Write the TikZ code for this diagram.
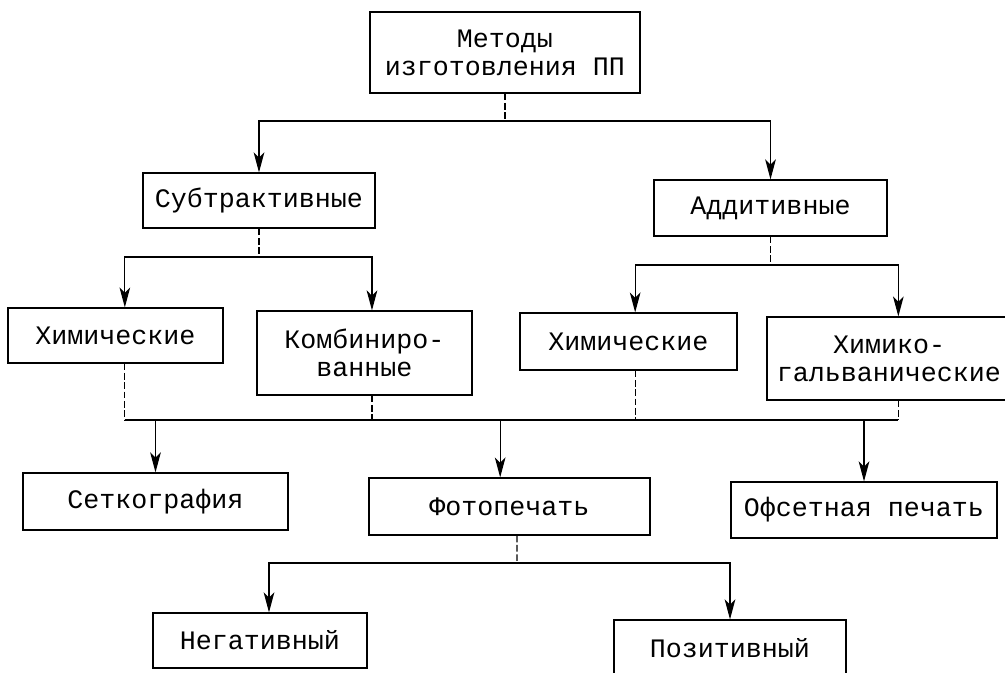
\documentclass[tikz,border=0pt]{standalone}
\usepackage{fontspec}
\newfontfamily\tw{Liberation Mono}
\usetikzlibrary{arrows.meta}
\begin{document}
\begin{tikzpicture}[x=0.75pt,y=-0.75pt,
  bx/.style={draw, line width=0.9pt, inner sep=0pt, align=center,
    font=\tw\fontsize{20}{21}\selectfont},
  arr/.style={line width=0.9pt, -{Stealth[length=15pt,width=8pt,inset=4pt]}},
  ln/.style={line width=0.9pt},
  stub/.style={line width=0.9pt, dash pattern=on 5pt off 2pt}]
\useasboundingbox (0,0) rectangle (1005,672);
% boxes
\node[bx, minimum width=202.5pt, minimum height=60.75pt] (top) at (505,52.5) {Методы\\изготовления ПП};
\node[bx, minimum width=174pt, minimum height=41.25pt] (sub) at (259,200.5) {Субтрактивные};
\node[bx, minimum width=174.75pt, minimum height=42pt] (add) at (770.5,208) {Аддитивные};
\node[bx, minimum width=161.25pt, minimum height=41.25pt] (chemL) at (115.5,335.5) {Химические};
\node[bx, minimum width=161.25pt, minimum height=63pt] (comb) at (364.5,353) {Комбиниро-\\ванные};
\node[bx, minimum width=162.75pt, minimum height=42.75pt] (chemR) at (628.5,341.5) {Химические};
\node[bx, minimum width=183pt, minimum height=62.25pt] (galv) at (889,358.5) {Химико-\\гальванические};
\node[bx, minimum width=198.75pt, minimum height=42.75pt] (setk) at (155.5,501.5) {Сеткография};
\node[bx, minimum width=210.75pt, minimum height=42.75pt] (foto) at (509.5,506.5) {Фотопечать};
\node[bx, minimum width=199.5pt, minimum height=42pt] (ofset) at (864,510) {Офсетная печать};
\node[bx, minimum width=160.5pt, minimum height=41.25pt] (neg) at (260,640.5) {Негативный};
\node[bx, minimum width=174pt, minimum height=42pt] (pos) at (730,648) {Позитивный};
% level 1 -> 2
\coordinate (h1) at (505,121);
\draw[stub] (top.south) -- (h1);
\draw[arr] (h1) -| (sub.north);
\draw[arr] (h1) -| (add.north);
% sub -> chem/comb
\coordinate (h2) at (259,257);
\draw[stub] (sub.south) -- (h2);
\draw[arr] (h2) -| ([xshift=7pt]chemL.north);
\draw[arr] (h2) -| ([xshift=5.6pt]comb.north);
% add -> chemR/galv
\coordinate (h3) at (770.5,265);
\draw[stub] (add.south) -- (h3);
\draw[arr] (h3) -| ([xshift=5pt]chemR.north);
\draw[arr] (h3) -| ([xshift=7pt]galv.north);
% bus
\coordinate (bR) at ([xshift=7pt]galv.south |- 0,420);
\draw[stub] ([xshift=7pt]chemL.south) -- ([xshift=7pt]chemL.south |- bR);
\draw[ln] ([xshift=7pt]chemL.south |- bR) -- (bR);
\draw[stub] ([xshift=7pt]galv.south) -- (bR);
\draw[stub] ([xshift=5.6pt]comb.south) -- ([xshift=5.6pt]comb.south |- bR);
\draw[stub] ([xshift=5pt]chemR.south) -- ([xshift=5pt]chemR.south |- bR);
\draw[arr] (setk.north |- bR) -- (setk.north);
\draw[arr] ([xshift=-7pt]foto.north |- bR) -- ([xshift=-7pt]foto.north);
\draw[arr] (ofset.north |- bR) -- (ofset.north);
% foto -> neg/pos
\coordinate (h4) at (517,563);
\draw[stub] ([xshift=5.6pt]foto.south) -- (h4);
\draw[arr] (h4) -| ([xshift=6.75pt]neg.north);
\draw[arr] (h4) -| (pos.north);
\end{tikzpicture}
\end{document}
